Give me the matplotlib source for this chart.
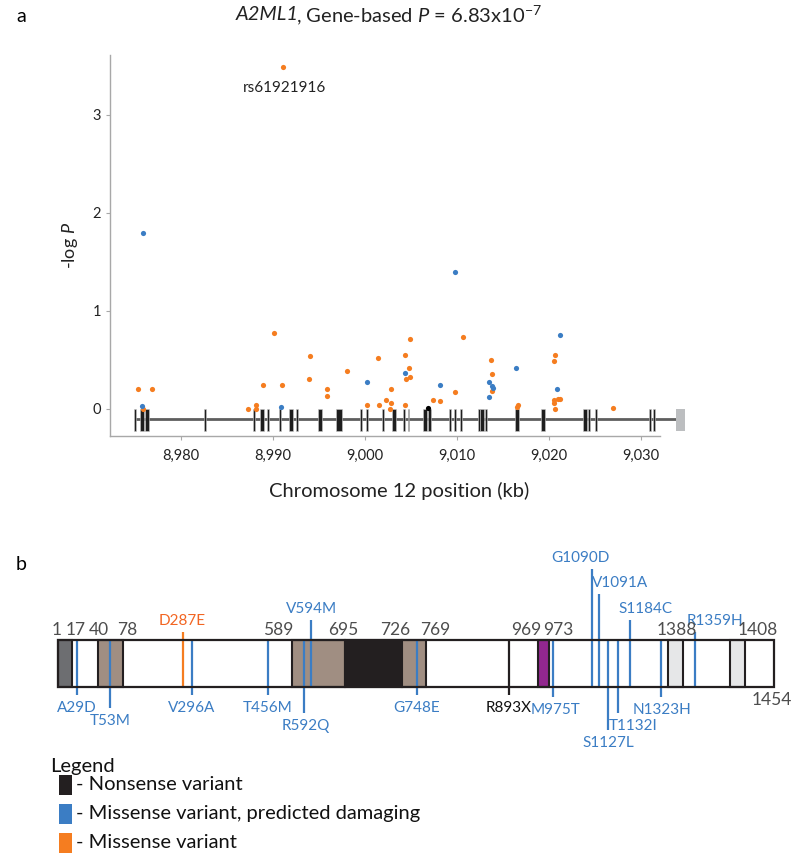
import numpy as np
import matplotlib
matplotlib.use('Agg')
import matplotlib.pyplot as plt
from matplotlib.patches import Rectangle

plt.rcParams['font.family'] = ['Lato', 'DejaVu Sans']
plt.rcParams['mathtext.fontset'] = 'custom'
plt.rcParams['mathtext.rm'] = 'Lato'
plt.rcParams['mathtext.it'] = 'Lato:italic'

# ---- panel a data: variant positions (kb) and -log P
orange_kb = [8975.3, 8976.8, 8975.9, 8987.25, 8988.2, 8988.2, 8988.9, 8990.1, 8991.0, 8991.1,
             8994.0, 8993.9, 8995.9, 8995.9, 8998.0, 9000.2, 9001.4, 9001.5, 9002.3, 9002.8,
             9002.8, 9002.7, 9004.4, 9004.9, 9004.8, 9004.5, 9004.9, 9004.4, 9007.4, 9008.1,
             9009.8, 9010.7, 9013.7, 9013.8, 9013.8, 9016.5, 9016.6, 9020.6, 9020.5, 9020.5,
             9020.5, 9021.0, 9021.2, 9020.6, 9027.0]
orange_logp = [0.20, 0.20, 0.00, 0.00, 0.04, 0.00, 0.24, 0.78, 0.24, 3.49,
               0.54, 0.31, 0.20, 0.13, 0.39, 0.04, 0.52, 0.04, 0.09, 0.20,
               0.06, 0.00, 0.55, 0.71, 0.42, 0.31, 0.33, 0.04, 0.09, 0.08,
               0.17, 0.73, 0.50, 0.36, 0.18, 0.02, 0.04, 0.55, 0.49, 0.09,
               0.06, 0.10, 0.10, 0.00, 0.01]
blue_kb = [8975.8, 8975.9, 8990.9, 9000.2, 9004.4, 9008.2, 9009.8, 9013.5, 9013.8, 9013.9,
           9013.5, 9016.4, 9021.2, 9020.9]
blue_logp = [0.03, 1.80, 0.02, 0.28, 0.37, 0.24, 1.40, 0.28, 0.23, 0.21,
             0.12, 0.42, 0.76, 0.20]
nonsense_kb = [9006.8]
nonsense_logp = [0.01]
top_snp = 'rs61921916'
top_kb, top_logp = 8991.1, 3.49

exon_kb = [8975.0, 8975.76, 8976.3, 8982.6, 8987.93, 8988.8, 8989.46, 8990.76, 8991.96, 8992.6,
           8995.1, 8997.17, 8999.57, 9000.2, 9001.96, 9003.15, 9004.24, 9004.73, 9006.52, 9007.0,
           9009.24, 9009.78, 9010.43, 9012.39, 9012.72, 9013.15,
           9016.52, 9019.35, 9023.91, 9024.35, 9025.11, 9030.98, 9031.41]
exon_len = [0.18, 0.36, 0.36, 0.18, 0.18, 0.45, 0.24, 0.24, 0.45, 0.24,
            0.36, 0.56, 0.24, 0.24, 0.24, 0.45, 0.18, 0.18, 0.45, 0.24,
            0.18, 0.18, 0.24, 0.18, 0.36, 0.18,
            0.45, 0.36, 0.36, 0.24, 0.18, 0.24, 0.24]
utr_start, utr_end = 9033.8, 9034.8
xticks_kb = [8980, 8990, 9000, 9010, 9020, 9030]
yticks = [0, 1, 2, 3]

# ---- panel b data (schematic positions along the protein diagram)
protein_start, protein_end = 58, 774
domain_start = [58, 98, 292, 345, 402, 538, 668, 730]
domain_end = [72, 123, 345, 402, 426, 549, 683, 745]
domain_color = ['#6d6e71', '#a08e82', '#a08e82', '#231f20', '#a08e82', '#92278f', '#e6e7e8', '#e6e7e8']
residue_labels = ['1', '17', '40', '78', '589', '695', '726', '769', '969', '973', '1388', '1408']
residue_label_x = [57, 76, 99, 127, 278, 343, 395, 435, 526, 558, 677, 758]

var_names = ['A29D', 'T53M', 'D287E', 'V296A', 'T456M', 'R592Q', 'V594M', 'G748E', 'R893X',
             'M975T', 'G1090D', 'V1091A', 'S1127L', 'T1132I', 'S1184C', 'N1323H', 'R1359H']
var_type = ['damaging', 'damaging', 'missense', 'damaging', 'damaging', 'damaging', 'damaging',
            'damaging', 'nonsense', 'damaging', 'damaging', 'damaging', 'damaging', 'damaging',
            'damaging', 'damaging', 'damaging']
var_x = [77, 110, 182.5, 192, 268, 304, 311, 417, 509, 553, 592, 599, 608, 618, 630, 661, 695]
var_side = ['below', 'below', 'above', 'below', 'below', 'below', 'above', 'below', 'below',
            'below', 'above', 'above', 'below', 'below', 'above', 'below', 'above']
var_stalk = [55, 68, 8, 55, 55, 73, 20, 55, 55, 57, 71, 46, 90, 73, 20, 57, 8]
var_label_dx = [0, 0, 0, 0, 0, 2, 1, 0, 0, 2, -12, 21, 0, 15, 16, 1, 20]

colors = {'damaging': '#3b7dc4', 'missense': '#f57d20', 'nonsense': '#231f20'}
text_colors = {'damaging': '#3b7dc4', 'missense': '#f26522', 'nonsense': '#111111'}

W, H = 800, 864
fig = plt.figure(figsize=(8, 8.64), dpi=100)

# ---------------- panel a
px2kb = lambda p: 8980 + (p - 181) / 9.2
px2v = lambda p: (409 - p) / 98.0
ax = fig.add_axes([110 / W, 1 - 436 / H, (688 - 110) / W, (436 - 55) / H])
ax.set_xlim(px2kb(110), px2kb(688))
ax.set_ylim(px2v(436), px2v(55))

ax.plot([exon_kb[0], utr_start], [-0.105, -0.105], color='#5e5e5e', lw=2, zorder=1,
        solid_capstyle='butt')
ax.bar(exon_kb, 0.23, width=exon_len, bottom=-0.225, color='#1e1e1e',
       edgecolor='#c8c8c8', linewidth=0.4, zorder=2)
ax.bar([(utr_start + utr_end) / 2], 0.23, width=utr_end - utr_start, bottom=-0.225,
       color='#bcbec0', zorder=2)

ax.scatter(orange_kb, orange_logp, s=14, color='#f57d20', lw=0, zorder=3)
ax.scatter(blue_kb, blue_logp, s=14, color='#3b7dc4', lw=0, zorder=4)
ax.scatter(nonsense_kb, nonsense_logp, s=14, color='black', lw=0, zorder=4)
ax.annotate(top_snp, (top_kb, top_logp), xytext=(1, -18), textcoords='offset points',
            ha='center', fontsize=11, color='#222222')

for s in ['top', 'right']:
    ax.spines[s].set_visible(False)
for s in ['left', 'bottom']:
    ax.spines[s].set_color('#a8a8a8')
    ax.spines[s].set_linewidth(1)
ax.spines['bottom'].set_bounds(px2kb(110), px2kb(660))
ax.set_xticks(xticks_kb)
ax.set_xticklabels([f'{v:,}' for v in xticks_kb])
ax.set_yticks(yticks)
ax.tick_params(axis='both', colors='#a8a8a8', labelcolor='#222222', length=3, width=0.8,
               labelsize=10.5)
ax.tick_params(axis='x', pad=6)
ax.set_xlabel('Chromosome 12 position (kb)', fontsize=14.5, color='#222222', labelpad=14)
ax.set_ylabel(r'-log $\mathit{P}$', fontsize=13, color='#222222', labelpad=9)

# title: italic gene name followed by the regular part
title_y = 1 - 15 / H
t1 = fig.text(0, title_y, 'A2ML1', fontsize=14.5, fontstyle='italic', va='center', color='#222222')
t2 = fig.text(0, title_y, r', Gene-based $\mathit{P}$ = 6.83x10$^{-7}$', fontsize=14.5,
              va='center', color='#222222')
r = fig.canvas.get_renderer()
w1 = t1.get_window_extent(r).width / fig.dpi / 8
w2 = t2.get_window_extent(r).width / fig.dpi / 8
x0 = 390 / W - (w1 + w2) / 2
t1.set_x(x0)
t2.set_x(x0 + w1 - 0.003)
fig.text(16 / W, 1 - 16 / H, 'a', fontsize=14, va='center', ha='left')

# ---------------- panel b
bx = fig.add_axes([0, 0, 1, 345 / H])
bx.set_xlim(0, W)
bx.set_ylim(H, H - 345)
bx.axis('off')
fig.text(16 / W, 1 - 565 / H, 'b', fontsize=14, va='center', ha='left')

box_top, box_bot = 640, 687
bx.add_patch(Rectangle((protein_start, box_top), protein_end - protein_start, box_bot - box_top,
                       facecolor='white', edgecolor='none', zorder=1))
for x0, x1, c in zip(domain_start, domain_end, domain_color):
    bx.add_patch(Rectangle((x0, box_top), x1 - x0, box_bot - box_top, facecolor=c,
                           edgecolor='#231f20', lw=1.5, zorder=2))
for name, t, x, side, stalk, dx in zip(var_names, var_type, var_x, var_side, var_stalk, var_label_dx):
    if side == 'below':
        y1 = box_top + stalk
        bx.plot([x, x], [box_top, y1], color=colors[t], lw=1.6, solid_capstyle='butt', zorder=3)
        bx.text(x + dx, y1 + 13, name, ha='center', va='center', fontsize=11,
                color=text_colors[t])
    else:
        y0 = box_top - stalk
        bx.plot([x, x], [y0, box_bot], color=colors[t], lw=1.6, solid_capstyle='butt', zorder=3)
        bx.text(x + dx, y0 - 11, name, ha='center', va='center', fontsize=11,
                color=text_colors[t])
bx.add_patch(Rectangle((protein_start, box_top), protein_end - protein_start, box_bot - box_top,
                       facecolor='none', edgecolor='#231f20', lw=1.6, zorder=4))
for lab, x in zip(residue_labels, residue_label_x):
    bx.text(x, 630, lab, ha='center', va='center', fontsize=12.5, color='#4d4d4d')
bx.text(772, 700, '1454', ha='center', va='center', fontsize=12.5, color='#4d4d4d')

# legend
legend_items = [('nonsense', 'Nonsense variant'),
                ('damaging', 'Missense variant, predicted damaging'),
                ('missense', 'Missense variant')]
bx.text(50, 767, 'Legend', fontsize=14.5, va='center', ha='left', color='#111111')
for i, (t, lab) in enumerate(legend_items):
    yc = 785 + i * 29
    bx.add_patch(Rectangle((59, yc - 10), 13, 20, facecolor=colors[t], edgecolor='none'))
    bx.text(76, yc, '- ' + lab, fontsize=14.5, va='center', ha='left', color='#111111')

fig.savefig('out.png', dpi=100)
